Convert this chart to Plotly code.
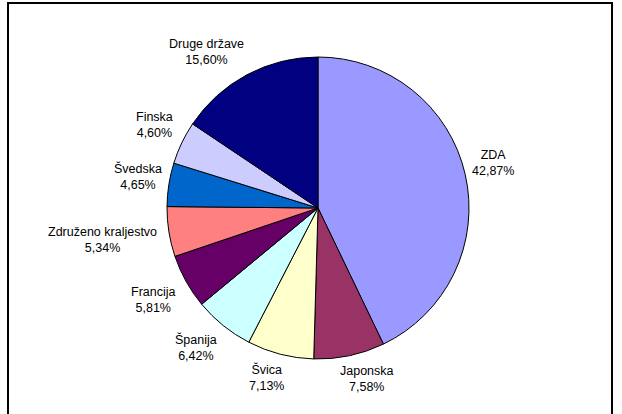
import math
import plotly.graph_objects as go

countries = ["ZDA", "Japonska", "Švica", "Španija", "Francija",
             "Združeno kraljestvo", "Švedska", "Finska", "Druge države"]
shares = [42.87, 7.58, 7.13, 6.42, 5.81, 5.34, 4.65, 4.60, 15.60]
colors = ["#9999FF", "#993366", "#FFFFCC", "#CCFFFF", "#660066",
          "#FF8080", "#0066CC", "#CCCCFF", "#000080"]

pct_text = [f"{v:.2f}".replace(".", ",") + "%" for v in shares]

W, H = 622, 414
# pie placement (pixels)
CX, CY, R = 318, 208, 151
FONT = dict(family="Liberation Sans, Arial, sans-serif", size=12.5, color="black")

fig = go.Figure(go.Pie(
    labels=countries,
    values=shares,
    textinfo="none",
    marker=dict(colors=colors, line=dict(color="black", width=1)),
    sort=False,
    direction="clockwise",
    rotation=0,
    showlegend=False,
    hoverinfo="skip",
    domain=dict(x=[(CX - R) / W, (CX + R) / W], y=[(H - CY - R) / H, (H - CY + R) / H]),
))

# outside labels placed around the pie at each slice's mid-angle
annotations = []
total = sum(shares)
cum = 0.0
for name, v, txt in zip(countries, shares, pct_text):
    mid = (cum + v / 2) / total * 2 * math.pi
    cum += v
    dx, dy = math.sin(mid), -math.cos(mid)  # screen direction (y down)
    g = lambda t: max(-1.0, min(1.0, 3 * t))
    w = max(len(name), len(txt)) * 6.0
    h = 28
    px = CX + (R + 10) * dx + w / 2 * g(dx)
    py = CY + (R + 10) * dy + h / 2 * g(dy)
    annotations.append(dict(
        x=px / W, y=1 - py / H, xref="paper", yref="paper",
        text=f"{name}<br>{txt}", showarrow=False,
        xanchor="center", yanchor="middle", align="center", font=FONT,
    ))

fig.update_layout(
    width=W, height=H,
    margin=dict(l=0, r=0, t=0, b=0),
    paper_bgcolor="white",
    plot_bgcolor="white",
    annotations=annotations,
    shapes=[dict(type="rect", xref="paper", yref="paper",
                 x0=8 / W, x1=612 / W, y0=-0.05, y1=(H - 3) / H,
                 line=dict(color="black", width=2), layer="below")],
)

fig.write_html("out.html", config={"displayModeBar": False},
               post_script="document.body.style.margin='0';document.body.style.overflow='hidden';")
